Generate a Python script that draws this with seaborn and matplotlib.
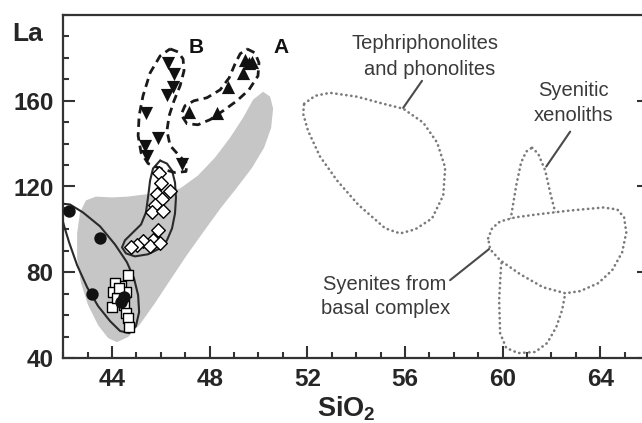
import numpy as np
import matplotlib
matplotlib.use("Agg")
import matplotlib.pyplot as plt
from matplotlib.ticker import MultipleLocator
import seaborn as sns

# ---------------- data (SiO2 wt%, La ppm) ----------------
circ_x = [42.24, 43.51, 43.18, 44.37, 44.49]
circ_y = [108.8, 95.8, 69.8, 66.0, 68.4]

sq_x = [44.66, 44.37, 44.12, 44.04, 44.00, 44.20, 44.57, 44.49, 44.57, 44.66, 44.70, 44.29]
sq_y = [78.6, 73.5, 74.9, 70.7, 63.7, 67.9, 70.7, 64.7, 60.9, 58.6, 54.4, 72.6]

dia_x = [45.93, 46.01, 46.38, 45.84, 46.05, 45.76, 45.64, 46.09, 45.89, 45.68, 45.27, 45.02, 44.78, 45.56, 45.97]
dia_y = [126.5, 121.4, 117.7, 116.3, 114.0, 111.6, 107.9, 108.4, 99.5, 94.9, 94.4, 92.6, 91.6, 92.1, 93.5]

b_x = [46.30, 46.54, 46.50, 46.25, 45.39, 45.89, 45.35, 45.43, 46.87]
b_y = [177.7, 172.6, 166.5, 162.8, 154.4, 142.8, 139.1, 134.0, 130.7]

a_x = [49.45, 49.61, 49.74, 49.37, 48.75, 48.30, 47.16]
a_y = [179.1, 177.7, 178.1, 173.0, 166.5, 154.4, 154.9]

# field outlines (vertices)
gray_x = [50.19, 50.48, 50.60, 50.52, 50.23, 49.74, 49.12, 48.47, 47.73, 47.03, 46.38, 45.76, 45.15,
          44.66, 44.20, 43.84, 43.43, 43.02, 42.73, 42.57, 42.57, 42.69, 42.93, 43.34, 44.00, 44.66,
          45.35, 46.05, 46.79, 47.52, 48.22, 48.84, 49.37, 49.78]
gray_y = [164.2, 161.9, 156.3, 147.4, 138.1, 128.8, 119.5, 110.2, 98.6, 87.4, 76.3, 65.6, 55.8,
          49.8, 47.4, 49.3, 55.3, 64.7, 74.9, 86.5, 98.1, 107.9, 113.5, 115.3, 114.9, 115.3,
          116.3, 117.2, 119.1, 125.1, 133.5, 142.8, 152.1, 160.5]

ell1_x = [41.87, 42.28, 42.81, 43.51, 44.12, 44.61, 44.90, 45.07, 45.11, 44.98, 44.70, 44.33,
          43.92, 43.43, 42.98, 42.57, 42.24, 42.03, 41.87]
ell1_y = [112.1, 111.6, 107.9, 101.4, 93.0, 84.7, 77.2, 69.3, 61.4, 54.9, 51.6, 52.6,
          57.2, 64.2, 73.0, 83.3, 94.0, 101.9, 108.8]

ell2_x = [45.97, 46.25, 46.46, 46.58, 46.62, 46.58, 46.46, 46.25, 45.97, 45.48, 44.94, 44.57,
          44.41, 44.53, 44.86, 45.19, 45.39, 45.48, 45.56, 45.68]
ell2_y = [132.1, 130.7, 127.4, 121.9, 114.9, 107.4, 100.5, 94.9, 91.2, 88.4, 87.4, 88.8,
          91.6, 94.9, 98.6, 102.3, 107.9, 115.3, 122.8, 128.4]

fieldB_x = [46.38, 46.70, 46.91, 46.95, 46.79, 46.54, 46.34, 46.25, 46.38, 46.75, 47.07, 47.03,
            46.58, 45.97, 45.48, 45.19, 45.07, 45.11, 45.27, 45.56, 45.97]
fieldB_y = [184.2, 182.8, 179.5, 174.0, 167.0, 160.0, 153.0, 146.0, 139.1, 134.4, 130.7, 127.0,
            126.5, 128.4, 130.7, 135.8, 143.7, 153.0, 162.3, 173.0, 180.9]

fieldA_x = [49.53, 49.86, 50.02, 49.98, 49.61, 49.12, 48.55, 48.02, 47.52, 47.07, 46.83, 46.99,
            47.36, 47.89, 48.43, 48.80, 49.04, 49.25]
fieldA_y = [184.2, 182.3, 177.7, 171.6, 165.1, 160.0, 155.3, 151.2, 148.8, 149.3, 153.5, 157.7,
            160.0, 161.4, 165.1, 170.7, 177.2, 181.9]

teph_x = [51.87, 52.32, 52.93, 54.04, 55.11, 55.93, 56.75, 57.32, 57.65, 57.57, 57.11, 56.42,
          55.80, 55.19, 54.08, 53.22, 52.52, 52.03, 51.83]
teph_y = [158.6, 162.3, 163.7, 161.9, 158.6, 156.3, 149.8, 140.5, 128.8, 115.8, 105.1, 100.0,
          98.1, 100.5, 111.6, 122.8, 134.0, 146.0, 154.0]

xeno_x = [61.21, 61.46, 61.75, 61.95, 62.16, 62.36, 62.52, 62.57, 62.44, 62.20, 61.83, 61.34,
          60.64, 60.15, 59.90, 59.86, 59.94, 60.19, 60.39, 60.56, 60.76, 60.97]
xeno_y = [138.1, 135.3, 127.4, 117.2, 107.9, 94.9, 80.9, 70.2, 62.3, 54.4, 47.0, 42.8,
          42.3, 44.7, 51.6, 67.0, 83.3, 94.9, 108.8, 120.5, 131.2, 136.3]

basal_x = [59.41, 59.57, 59.90, 60.52, 61.42, 62.77, 64.12, 64.70, 64.98, 65.07, 64.90, 64.49,
           63.92, 63.18, 62.57, 61.66, 60.72, 59.90, 59.49]
basal_y = [95.8, 100.5, 103.7, 105.6, 107.0, 108.8, 110.2, 109.3, 105.6, 98.6, 89.3, 80.9,
           74.9, 71.2, 70.2, 73.0, 79.1, 85.6, 90.7]

# leader lines: (x0, y0, x1, y1)
leaders = [(56.70, 169.3, 55.93, 156.7),
           (62.77, 145.6, 61.79, 129.3),
           (57.85, 76.3, 59.49, 91.2)]

labels = [("Tephriphonolites", 56.83, 186.5),
          ("and phonolites", 57.0, 174.4),
          ("Syenitic", 62.89, 164.7),
          ("xenoliths", 62.89, 153.0),
          ("Syenites from", 55.19, 74.4),
          ("basal complex", 55.19, 63.3)]

xticks = [44, 48, 52, 56, 60, 64]
yticks = [40, 80, 120, 160]

# ---------------- style ----------------
sns.set_style("ticks")
plt.rcParams['font.family'] = ['Liberation Sans', 'DejaVu Sans']
plt.rcParams['mathtext.fontset'] = 'custom'
plt.rcParams['mathtext.rm'] = 'Liberation Sans'
plt.rcParams['mathtext.bf'] = 'Liberation Sans:bold'

fig = plt.figure(figsize=(6.42, 4.23), dpi=100)
ax = fig.add_axes([63.2 / 642, 65 / 423, 585.8 / 642, 343 / 423])
ax.set_xlim(42, 66)
ax.set_ylim(40, 200)


def closed(xs, ys):
    return list(xs) + [xs[0]], list(ys) + [ys[0]]


# gray field
ax.fill(gray_x, gray_y, color='#c6c6c6', lw=0, zorder=1)

# solid ellipses
for xs, ys in [(ell1_x, ell1_y), (ell2_x, ell2_y)]:
    cx, cy = closed(xs, ys)
    ax.plot(cx, cy, color='#2a2a2a', lw=1.5, zorder=3, solid_joinstyle='round')

# dashed fields A and B
for xs, ys in [(fieldA_x, fieldA_y), (fieldB_x, fieldB_y)]:
    cx, cy = closed(xs, ys)
    ax.plot(cx, cy, color='#1a1a1a', lw=2.0, linestyle=(0, (3.0, 1.9)), zorder=3)

# dotted fields
dot = dict(color='#7a7a7a', lw=1.9, linestyle=(0, (0.1, 1.8)), dash_capstyle='round', zorder=2)
cx, cy = closed(teph_x, teph_y)
ax.plot(cx, cy, **dot)
cx, cy = closed(xeno_x, xeno_y)
ax.plot(cx, cy, **dot)
cx, cy = closed(basal_x, basal_y)
ax.fill(cx, cy, color='white', lw=0, zorder=2.5)
ax.plot(cx, cy, **{**dot, 'zorder': 2.6})

# leader lines
for x0, y0, x1, y1 in leaders:
    ax.plot([x0, x1], [y0, y1], color='#4a4a4a', lw=1.5, zorder=2)

# markers
sns.scatterplot(x=sq_x, y=sq_y, marker='s', s=42, color='white', edgecolor='black',
                linewidth=1.0, ax=ax, zorder=4)
sns.scatterplot(x=circ_x, y=circ_y, marker='o', s=80, color='#111111', edgecolor='#111111',
                linewidth=0, ax=ax, zorder=5)
sns.scatterplot(x=dia_x, y=dia_y, marker='D', s=48, color='white', edgecolor='black',
                linewidth=1.0, ax=ax, zorder=4)
sns.scatterplot(x=b_x, y=b_y, marker='v', s=90, color='#111111', edgecolor='#111111',
                linewidth=0, ax=ax, zorder=5)
sns.scatterplot(x=a_x, y=a_y, marker='^', s=90, color='#111111', edgecolor='#111111',
                linewidth=0, ax=ax, zorder=5)

# texts
for t, x, y in labels:
    ax.text(x, y, t, ha='center', va='center', fontsize=14.5, color='#3a3a3a', zorder=6)
ax.text(50.93, 184.7, "A", ha='center', va='center', fontsize=15, fontweight='bold', color='#111111')
ax.text(47.44, 184.7, "B", ha='center', va='center', fontsize=15, fontweight='bold', color='#111111')

# axes
ax.set_xticks(xticks)
ax.set_yticks(yticks)
ax.xaxis.set_minor_locator(MultipleLocator(1))
ax.yaxis.set_minor_locator(MultipleLocator(10))
ax.tick_params(which='both', direction='in', top=False, right=True, width=1.5, color='#333333')
ax.tick_params(which='major', length=8.5, labelsize=17.5, pad=7)
ax.tick_params(which='minor', length=4.5)
plt.setp(ax.get_xticklabels() + ax.get_yticklabels(), fontweight='bold')
for sp in ax.spines.values():
    sp.set_linewidth(1.6)
    sp.set_color('#333333')

ax.set_xlabel(r'$\mathbf{SiO_2}$', fontsize=19.5)
ax.xaxis.set_label_coords(0.483, -0.105)
ax.set_ylabel('')
fig.text(12 / 642, 1 - 34 / 423, 'La', ha='left', va='center', fontsize=19, fontweight='bold')

fig.savefig('out.png', dpi=100)
